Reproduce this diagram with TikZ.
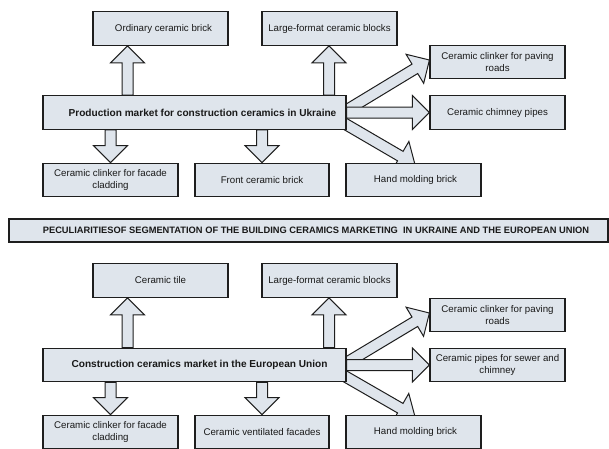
\documentclass[tikz,border=0pt]{standalone}
\usepackage{fontspec}
\setmainfont{Liberation Sans}
\usetikzlibrary{calc,backgrounds}
\definecolor{boxfill}{RGB}{223,229,236}
\definecolor{edgecol}{RGB}{30,30,30}
\definecolor{txtcol}{RGB}{25,25,25}
\tikzset{
  box/.style={draw=edgecol, line width=1.2pt, fill=boxfill, text=txtcol,
    minimum width=135pt, minimum height=33.5pt, inner sep=2pt, align=center,
    font=\fontsize{9.7}{11.7}\selectfont},
  mainbox/.style={box, minimum width=303pt, font=\bfseries\fontsize{10.1}{12}\selectfont},
  bannerbox/.style={box, minimum width=599pt, minimum height=23pt, font=\bfseries\fontsize{9.3}{11}\selectfont},
  blkarrow/.style={draw=edgecol, line width=1pt, fill=boxfill, line join=miter},
}
% block arrow from coordinate #1 to tip coordinate #2
\newcommand\blockarrow[2]{%
  \coordinate (ba-c) at ($(#2)!17pt!(#1)$);
  \path[blkarrow] ($(#1)!5.5pt!90:(#2)$) -- ($(ba-c)!5.5pt!90:(#2)$) -- ($(ba-c)!17pt!90:(#2)$)
    -- (#2) -- ($(ba-c)!17pt!-90:(#2)$) -- ($(ba-c)!5.5pt!-90:(#2)$) -- ($(#1)!5.5pt!-90:(#2)$) -- cycle;
}
\newcommand\shifted[2]{\makebox[0pt]{\hspace*{#1}#2}}
\begin{document}
\begin{tikzpicture}[x=1pt, y=-1pt]
\useasboundingbox (0,0) rectangle (609,448);
\clip (0,0) rectangle (609,448);

% ---------- Ukraine ----------
\node[box] (ord) at (160.5,28.5) {\shifted{6pt}{Ordinary ceramic brick}};
\node[box] (large) at (329.5,28.5) {Large-format ceramic blocks};
\node[mainbox] (mainU) at (194.5,112.5) {\shifted{16pt}{Production market for construction ceramics in Ukraine}};
\node[box] (clad) at (110.5,180) {Ceramic clinker for facade\\cladding};
\node[box, minimum width=134pt] (front) at (262,180) {Front ceramic brick};
\node[box] (hand) at (413.5,180) {\shifted{4pt}{Hand molding brick}};
\node[box] (pave) at (497.5,62) {Ceramic clinker for paving\\roads};
\node[box] (chim) at (497.5,112.5) {Ceramic chimney pipes};

\coordinate (u1s) at ([xshift=-67pt]mainU.north);
\coordinate (u1t) at (u1s |- ord.south);
\coordinate (u2s) at ([xshift=134.5pt]mainU.north);
\coordinate (u2t) at (u2s |- large.south);
\coordinate (d1s) at (clad.north |- mainU.south);
\coordinate (d2s) at (front.north |- mainU.south);
\coordinate (r1s) at ([xshift=-3pt,yshift=0.5pt]mainU.east);
\coordinate (r1t) at ([yshift=2pt]pave.west);
\coordinate (r3s) at ([xshift=-3pt,yshift=-10.5pt]mainU.east);
\coordinate (r3t) at ([xshift=1.5pt,yshift=-2pt]hand.north);

% ---------- banner ----------
\node[bannerbox] (banner) at (308.5,230.5) {\shifted{15pt}{PECULIARITIESOF SEGMENTATION OF THE BUILDING CERAMICS MARKETING\ \ IN UKRAINE AND THE EUROPEAN UNION}};

% ---------- European Union ----------
\node[box] (tile) at (160.5,280.5) {Ceramic tile};
\node[box] (large2) at (329.5,280.5) {Large-format ceramic blocks};
\node[mainbox] (mainE) at (194.5,365) {\shifted{10pt}{Construction ceramics market in the European Union}};
\node[box] (clad2) at (110.5,432) {Ceramic clinker for facade\\cladding};
\node[box, minimum width=134pt] (vent) at (262,432) {Ceramic ventilated facades};
\node[box] (hand2) at (413.5,432) {\shifted{4pt}{Hand molding brick}};
\node[box] (pave2) at (497.5,315) {Ceramic clinker for paving\\roads};
\node[box] (pipes) at (497.5,365) {Ceramic pipes for sewer and\\chimney};

\coordinate (v1s) at ([xshift=-67pt]mainE.north);
\coordinate (v1t) at (v1s |- tile.south);
\coordinate (v2s) at ([xshift=134.5pt]mainE.north);
\coordinate (v2t) at (v2s |- large2.south);
\coordinate (e1s) at (clad2.north |- mainE.south);
\coordinate (e2s) at (vent.north |- mainE.south);
\coordinate (s1s) at ([xshift=-3pt,yshift=0.5pt]mainE.east);
\coordinate (s1t) at ([yshift=2pt]pave2.west);
\coordinate (s3s) at ([xshift=-3pt,yshift=-10.5pt]mainE.east);
\coordinate (s3t) at ([xshift=1.5pt,yshift=-2pt]hand2.north);

\begin{pgfonlayer}{background}
  \blockarrow{u1s}{u1t}
  \blockarrow{u2s}{u2t}
  \blockarrow{d1s}{clad.north}
  \blockarrow{d2s}{front.north}
  \blockarrow{r1s}{r1t}
  \blockarrow{r3s}{r3t}
  \blockarrow{mainU.east}{chim.west}

  \blockarrow{v1s}{v1t}
  \blockarrow{v2s}{v2t}
  \blockarrow{e1s}{clad2.north}
  \blockarrow{e2s}{vent.north}
  \blockarrow{s1s}{s1t}
  \blockarrow{s3s}{s3t}
  \blockarrow{mainE.east}{pipes.west}
\end{pgfonlayer}
\end{tikzpicture}
\end{document}
